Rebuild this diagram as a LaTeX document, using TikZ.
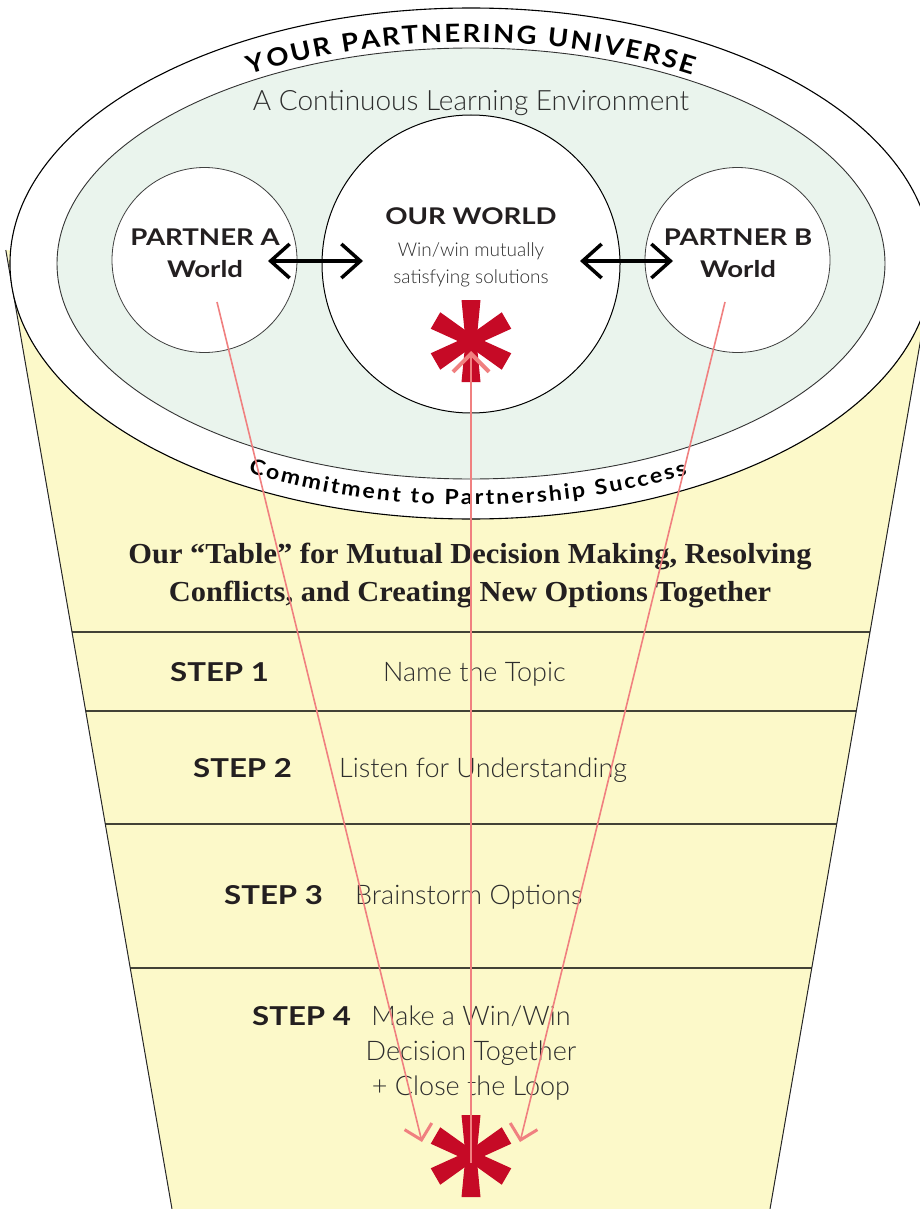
\documentclass[tikz,border=0pt]{standalone}
\usepackage{fontspec}
\setmainfont{Lato}
\newfontfamily\lightf{Lato Light}
\newfontfamily\widef{Lato}[FakeStretch=1.2]
\newfontfamily\arcf{Lato}[FakeStretch=1.1]
\newfontfamily\serifb{Liberation Serif}[FakeStretch=1.05]
\usetikzlibrary{arrows.meta,decorations.text,calc}
\definecolor{cupyellow}{RGB}{252,249,201}
\definecolor{envgreen}{RGB}{234,244,237}
\definecolor{pinkln}{RGB}{240,128,128}
\definecolor{starred}{RGB}{198,10,38}
\definecolor{divgray}{RGB}{66,66,54}
\definecolor{txtdark}{RGB}{35,31,32}
\definecolor{txtlight}{RGB}{45,45,45}
\tikzset{
  boldlbl/.style={font=\widef\bfseries\fontsize{#1}{#1}\selectfont, text=txtdark, inner sep=0pt},
  lightlbl/.style={font=\lightf\fontsize{#1}{#1}\selectfont, text=txtlight, inner sep=0pt},
  serifhead/.style={font=\serifb\bfseries\fontsize{#1}{#1}\selectfont, text=txtdark, inner sep=0pt},
  worldcircle/.style={circle, draw=black!75, line width=0.8pt, fill=white, inner sep=0pt, minimum size=#1},
  divider/.style={draw=divgray, line width=1.8pt},
  cupside/.style={draw=black!85, line width=1pt},
  pinkarrow/.style={draw=pinkln, line width=1.6pt, -{Straight Barb[length=14pt,width=28pt,line width=3pt]}},
  pinkup/.style={draw=pinkln, line width=1.6pt, -{Straight Barb[length=18pt,width=36pt,line width=4pt]}},
  dblarrow/.style={draw=black, line width=3.5pt, {Straight Barb[length=19pt,width=34pt]}-{Straight Barb[length=19pt,width=34pt]}},
}
\newcommand{\redstar}[1]{%
  \foreach \ang in {90,30,-30}{%
    \fill[starred, shift={(#1)}, rotate=\ang] (-41,-9.5) -- (0,-5.5) -- (41,-9.5) -- (41,9.5) -- (0,5.5) -- (-41,9.5) -- cycle;}}
\begin{document}
\begin{tikzpicture}[x=1pt,y=-1pt]
\useasboundingbox (0,0) rectangle (920,1209);
\clip (0,0) rectangle (920,1209);
\coordinate (uc) at (471,263.5);
% cup
\fill[cupyellow] (5.8,250) -- (172,1209) -- (770,1209) -- (936.2,250) -- cycle;
\coordinate (cupTL) at (5.8,250); \coordinate (cupBL) at (172,1209);
\coordinate (cupTR) at (936.2,250); \coordinate (cupBR) at (770,1209);
\begin{scope}
  \clip (cupTL) -- (cupBL) -- (cupBR) -- (cupTR) -- cycle;
  \foreach \yy in {632,711,824,968}{\draw[divider] (0,\yy) -- (920,\yy);}
\end{scope}
\draw[cupside] (cupTL) -- (cupBL);
\draw[cupside] (cupTR) -- (cupBR);
% universe ellipses
\filldraw[fill=white, draw=black, line width=1.1pt] (uc) ellipse [x radius=461, y radius=255.5];
\filldraw[fill=envgreen, draw=black!80, line width=0.9pt] (uc) ellipse [x radius=414, y radius=215.5];
% curved texts
\path[decorate, decoration={text along path, text align={fit to path},
   text={|\arcf\bfseries\fontsize{25}{25}\selectfont\color{black}|YOUR PARTNERING UNIVERSE}}]
   ($(uc)+(238.4:422 and 221.5)$) arc[start angle=238.4, end angle=301.6, x radius=422, y radius=221.5];
\path[decorate, decoration={text along path, text align={fit to path},
   text={|\arcf\bfseries\fontsize{21}{21}\selectfont\color{black}|Commitment to Partnership Success}}]
   ($(uc)+(120.1:444.5 and 241.5)$) arc[start angle=120.1, end angle=60.9, x radius=444.5, y radius=241.5];
\node[lightlbl=28, anchor=base] (env) at (471,111) {A Continuous Learning Environment};
% worlds
\node[worldcircle=185pt] (partnerA) at (204.5,260) {};
\node[worldcircle=298pt, draw=black, line width=1pt] (ourworld) at (471,264) {};
\node[worldcircle=185pt] (partnerB) at (737.5,260) {};
\node[boldlbl=23, anchor=base] (pAt) at (205,245) {PARTNER A};
\node[boldlbl=23, anchor=base] (pAw) at (205,277) {World};
\node[boldlbl=23, anchor=base] (pBt) at (738,245) {PARTNER B};
\node[boldlbl=23, anchor=base] (pBw) at (738,277) {World};
\node[boldlbl=23, anchor=base] (owt) at (471,224) {OUR WORLD};
\node[lightlbl=19, anchor=base] (ow1) at (471,256) {Win/win mutually};
\node[lightlbl=19, anchor=base] (ow2) at (471,283) {satisfying solutions};
\coordinate (dA1) at (268,261); \coordinate (dA2) at (363,261);
\coordinate (dB1) at (580,261); \coordinate (dB2) at (673,261);
\draw[dblarrow] (dA1) -- (dA2);
\draw[dblarrow] (dB1) -- (dB2);
% heading
\node[serifhead=29, anchor=base] (h1) at (470,563) {Our “Table” for Mutual Decision Making, Resolving};
\node[serifhead=29, anchor=base] (h2) at (470,601) {Conflicts, and Creating New Options Together};
% steps
\node[boldlbl=26, anchor=base west] (s1) at (170,681) {STEP 1};
\node[lightlbl=27, anchor=base west] (t1) at (383,681) {Name the Topic};
\node[boldlbl=26, anchor=base west] (s2) at (193,777) {STEP 2};
\node[lightlbl=27, anchor=base west] (t2) at (339,777) {Listen for Understanding};
\node[boldlbl=26, anchor=base west] (s3) at (224,904) {STEP 3};
\node[lightlbl=27, anchor=base west] (t3) at (355,904) {Brainstorm Options};
\node[boldlbl=26, anchor=base west] (s4) at (252,1025) {STEP 4};
\node[lightlbl=27, anchor=base] (t4a) at (471,1025) {Make a Win/Win};
\node[lightlbl=27, anchor=base] (t4b) at (471,1060) {Decision Together};
\node[lightlbl=27, anchor=base] (t4c) at (471,1095) {+ Close the Loop};
% asterisks
\coordinate (starTop) at (471,341);
\coordinate (starBot) at (471,1156);
\redstar{starTop}
\redstar{starBot}
% pink arrows
\coordinate (aS) at (217,302); \coordinate (aE) at (422,1142);
\coordinate (bS) at (725,302); \coordinate (bE) at (520,1142);
\coordinate (cS) at (471,1163); \coordinate (cE) at (471,351);
\draw[pinkarrow] (aS) -- (aE);
\draw[pinkarrow] (bS) -- (bE);
\draw[pinkup] (cS) -- (cE);
\end{tikzpicture}
\end{document}
